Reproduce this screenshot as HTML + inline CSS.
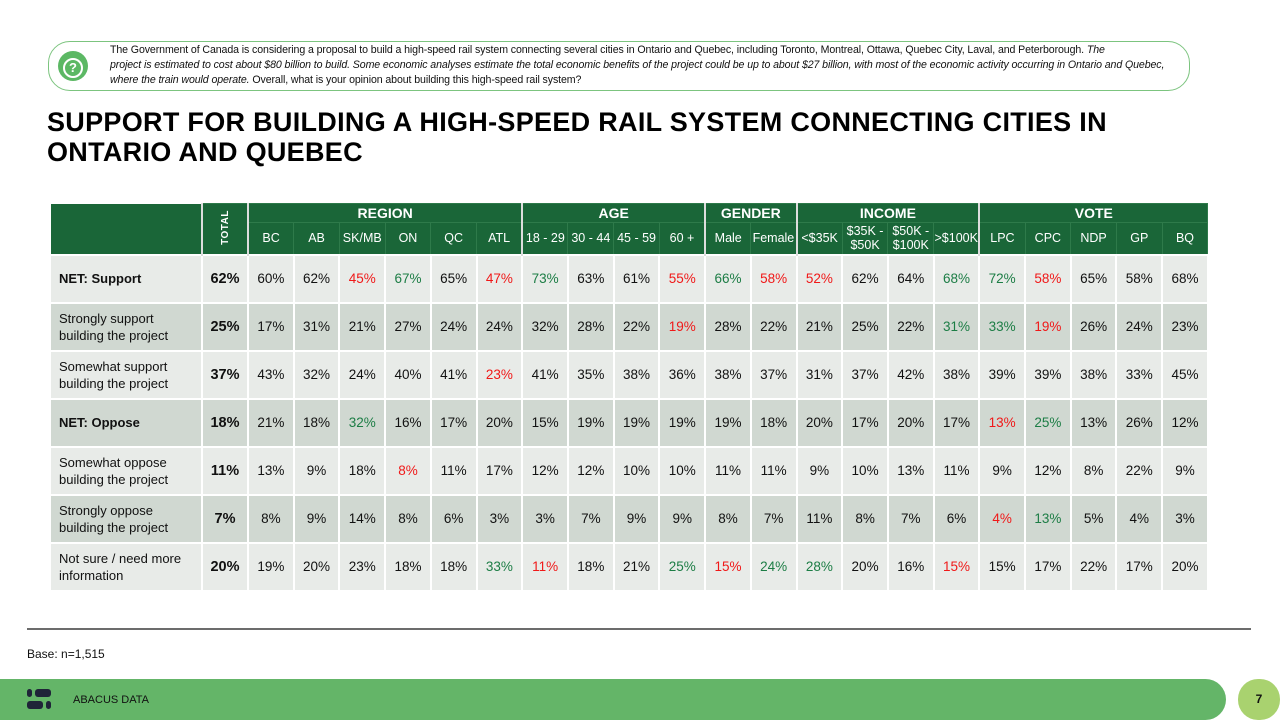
<!DOCTYPE html>
<html><head><meta charset="utf-8"><style>
*{margin:0;padding:0;box-sizing:border-box}
body{width:1280px;height:720px;background:#fff;position:relative;overflow:hidden;font-family:"Liberation Sans",sans-serif;color:#111}
.q{position:absolute;left:48px;top:41px;width:1142px;height:50px;border:1.5px solid #7cc47f;border-radius:22px;}
.qi{position:absolute;left:58px;top:51px;width:30px;height:30px;border-radius:50%;background:#5cb864;color:#fff;font-weight:bold;font-size:18px;text-align:center;line-height:30px}
.qi span{display:inline-block;width:20px;height:20px;border:2px solid #fff;border-radius:50%;line-height:16px;font-size:13px;margin-top:5px}
.qt{position:absolute;left:110px;top:43px;font-size:10.6px;line-height:15px;color:#111;white-space:nowrap;letter-spacing:-0.1px}
h1{position:absolute;left:47px;top:107px;font-size:27px;line-height:30px;font-weight:bold;letter-spacing:.3px;color:#000}
table{position:absolute;left:49px;top:203px;width:1158px;table-layout:fixed;border-collapse:collapse}
td,th{border:2px solid #fff;text-align:center;font-size:13.5px;padding:0}
th{background:#1a6638;color:#fff;font-weight:normal;font-size:12.5px;border-color:#2e7a4a;border-width:1px}
th.g{font-weight:bold;font-size:14px;height:19px;border-left:2px solid #ddd}
th.s{height:32px;line-height:14px}
th.l{border-left:2px solid #ddd}
td{height:48px}
td.lab{text-align:left;padding-left:8px;font-size:13px;line-height:17px}
td.t{font-weight:bold;font-size:14.5px}
tr.a td{background:#e8ebe8}
tr.b td{background:#d0d8d1}
.r{color:#f01818}.gr{color:#1c7d45}
.tot{writing-mode:vertical-rl;transform:rotate(180deg);font-weight:bold;font-size:10px;letter-spacing:.5px}
.line{position:absolute;left:27px;top:628px;width:1224px;height:2px;background:#6c6c6c}
.base{position:absolute;left:27px;top:647px;font-size:12px}
.foot{position:absolute;left:0;top:679px;width:1226px;height:41px;background:#64b568;border-radius:0 22px 22px 0}
.pg{position:absolute;left:1238px;top:679px;width:42px;height:41px;background:#a9d26f;border-radius:20px;text-align:center;line-height:41px;font-size:12px;font-weight:bold}
.ft{position:absolute;left:73px;top:694px;font-size:11px;color:#111}
.d{position:absolute;background:#1f2438;border-radius:3px}
</style></head><body>
<div class="q"></div>
<div class="qi"><span>?</span></div>
<div class="qt">The Government of Canada is considering a proposal to build a high-speed rail system connecting several cities in Ontario and Quebec, including Toronto, Montreal, Ottawa, Quebec City, Laval, and Peterborough. <i>The</i><br><i>project is estimated to cost about $80 billion to build. Some economic analyses estimate the total economic benefits of the project could be up to about $27 billion, with most of the economic activity occurring in Ontario and Quebec,</i><br><i>where the train would operate.</i> Overall, what is your opinion about building this high-speed rail system?</div>
<h1>SUPPORT FOR BUILDING A HIGH-SPEED RAIL SYSTEM CONNECTING CITIES IN<br>ONTARIO AND QUEBEC</h1>
<table>
<colgroup><col style="width:152px"><col style="width:46px"><col span="21" style="width:45.714px"></colgroup>
<tr><th rowspan="2" style="border-color:#fff"></th><th rowspan="2" style="border-left:2px solid #ddd"><span class="tot">TOTAL</span></th>
<th class="g" colspan="6">REGION</th><th class="g" colspan="4">AGE</th><th class="g" colspan="2">GENDER</th><th class="g" colspan="4">INCOME</th><th class="g" colspan="5">VOTE</th></tr>
<tr><th class="s l">BC</th><th class="s">AB</th><th class="s">SK/MB</th><th class="s">ON</th><th class="s">QC</th><th class="s">ATL</th>
<th class="s l">18 - 29</th><th class="s">30 - 44</th><th class="s">45 - 59</th><th class="s">60 +</th>
<th class="s l">Male</th><th class="s">Female</th>
<th class="s l">&lt;$35K</th><th class="s">$35K -<br>$50K</th><th class="s">$50K -<br>$100K</th><th class="s">&gt;$100K</th>
<th class="s l">LPC</th><th class="s">CPC</th><th class="s">NDP</th><th class="s">GP</th><th class="s">BQ</th></tr>
<tr class="a"><td class="lab"><b>NET: Support</b></td><td class="t">62%</td><td>60%</td><td>62%</td><td class="r">45%</td><td class="gr">67%</td><td>65%</td><td class="r">47%</td><td class="gr">73%</td><td>63%</td><td>61%</td><td class="r">55%</td><td class="gr">66%</td><td class="r">58%</td><td class="r">52%</td><td>62%</td><td>64%</td><td class="gr">68%</td><td class="gr">72%</td><td class="r">58%</td><td>65%</td><td>58%</td><td>68%</td></tr>
<tr class="b"><td class="lab">Strongly support<br>building the project</td><td class="t">25%</td><td>17%</td><td>31%</td><td>21%</td><td>27%</td><td>24%</td><td>24%</td><td>32%</td><td>28%</td><td>22%</td><td class="r">19%</td><td>28%</td><td>22%</td><td>21%</td><td>25%</td><td>22%</td><td class="gr">31%</td><td class="gr">33%</td><td class="r">19%</td><td>26%</td><td>24%</td><td>23%</td></tr>
<tr class="a"><td class="lab">Somewhat support<br>building the project</td><td class="t">37%</td><td>43%</td><td>32%</td><td>24%</td><td>40%</td><td>41%</td><td class="r">23%</td><td>41%</td><td>35%</td><td>38%</td><td>36%</td><td>38%</td><td>37%</td><td>31%</td><td>37%</td><td>42%</td><td>38%</td><td>39%</td><td>39%</td><td>38%</td><td>33%</td><td>45%</td></tr>
<tr class="b"><td class="lab"><b>NET: Oppose</b></td><td class="t">18%</td><td>21%</td><td>18%</td><td class="gr">32%</td><td>16%</td><td>17%</td><td>20%</td><td>15%</td><td>19%</td><td>19%</td><td>19%</td><td>19%</td><td>18%</td><td>20%</td><td>17%</td><td>20%</td><td>17%</td><td class="r">13%</td><td class="gr">25%</td><td>13%</td><td>26%</td><td>12%</td></tr>
<tr class="a"><td class="lab">Somewhat oppose<br>building the project</td><td class="t">11%</td><td>13%</td><td>9%</td><td>18%</td><td class="r">8%</td><td>11%</td><td>17%</td><td>12%</td><td>12%</td><td>10%</td><td>10%</td><td>11%</td><td>11%</td><td>9%</td><td>10%</td><td>13%</td><td>11%</td><td>9%</td><td>12%</td><td>8%</td><td>22%</td><td>9%</td></tr>
<tr class="b"><td class="lab">Strongly oppose<br>building the project</td><td class="t">7%</td><td>8%</td><td>9%</td><td>14%</td><td>8%</td><td>6%</td><td>3%</td><td>3%</td><td>7%</td><td>9%</td><td>9%</td><td>8%</td><td>7%</td><td>11%</td><td>8%</td><td>7%</td><td>6%</td><td class="r">4%</td><td class="gr">13%</td><td>5%</td><td>4%</td><td>3%</td></tr>
<tr class="a"><td class="lab">Not sure / need more<br>information</td><td class="t">20%</td><td>19%</td><td>20%</td><td>23%</td><td>18%</td><td>18%</td><td class="gr">33%</td><td class="r">11%</td><td>18%</td><td>21%</td><td class="gr">25%</td><td class="r">15%</td><td class="gr">24%</td><td class="gr">28%</td><td>20%</td><td>16%</td><td class="r">15%</td><td>15%</td><td>17%</td><td>22%</td><td>17%</td><td>20%</td></tr>
</table>
<div class="line"></div>
<div class="base">Base: n=1,515</div>
<div class="foot"></div>
<div class="pg">7</div>
<div class="d" style="left:27px;top:689px;width:5px;height:8px"></div>
<div class="d" style="left:35px;top:689px;width:16px;height:8px"></div>
<div class="d" style="left:27px;top:701px;width:16px;height:8px"></div>
<div class="d" style="left:46px;top:701px;width:5px;height:8px"></div>
<div class="ft">ABACUS DATA</div>
</body></html>
